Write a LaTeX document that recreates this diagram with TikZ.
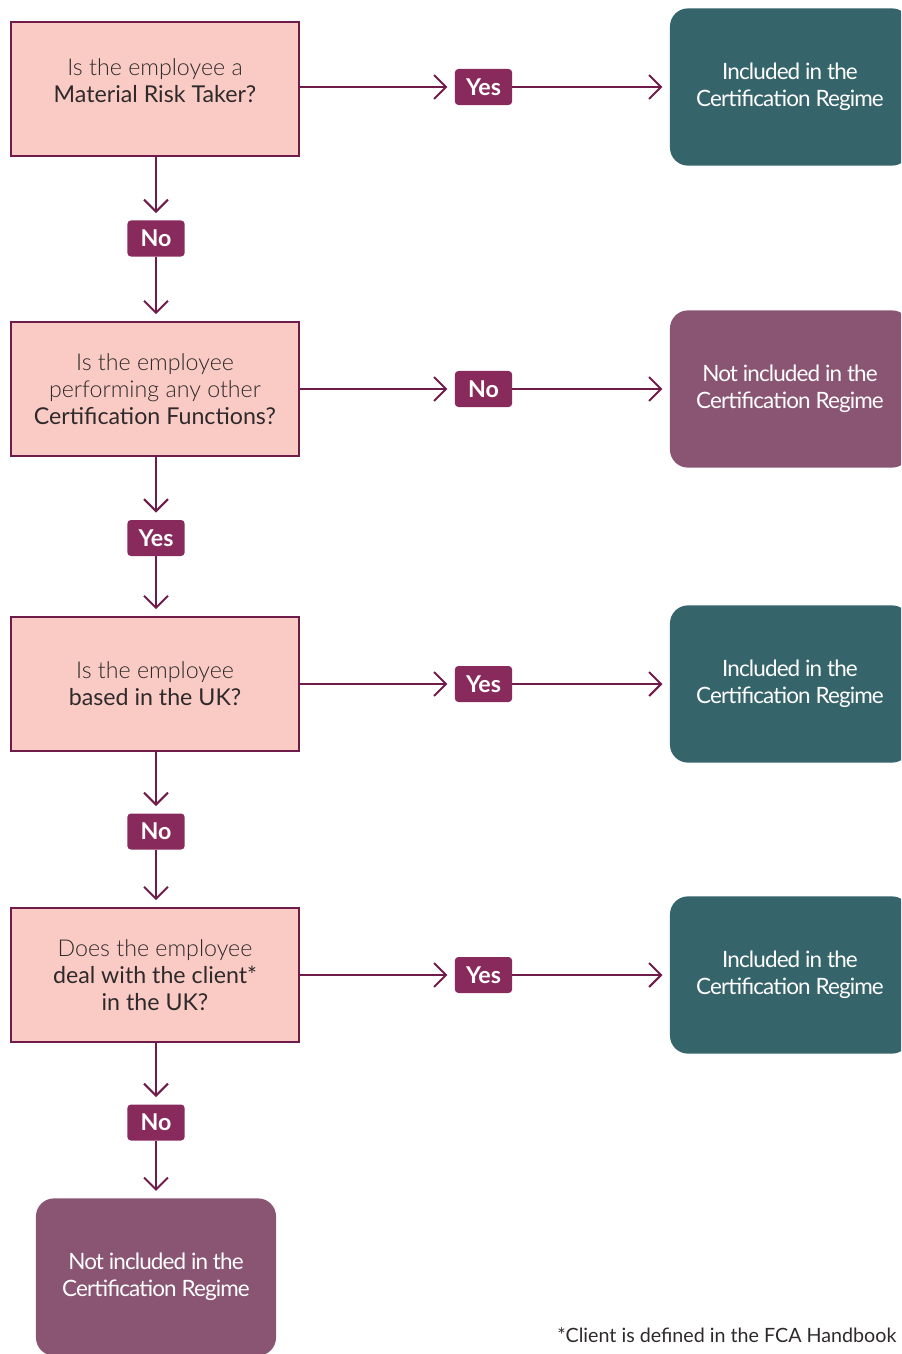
\documentclass[tikz,border=0pt]{standalone}
\usepackage{fontspec}
\setmainfont{Lato}
\newfontfamily\lightfont{Lato Light}
\newfontfamily\tightfont[LetterSpace=-4]{Lato}
\usepackage{xcolor}
\usetikzlibrary{arrows.meta}

\definecolor{pinkfill}{HTML}{FACBC4}
\definecolor{plumline}{HTML}{701C4A}
\definecolor{badgefill}{HTML}{882A5B}
\definecolor{tealbox}{HTML}{35646A}
\definecolor{plumbox}{HTML}{8A5473}
\definecolor{darktext}{HTML}{2E2A2B}

\begin{document}
\begin{tikzpicture}[
    x=0.025cm, y=-0.025cm,
    qbox/.style={rectangle, draw=plumline, fill=pinkfill, line width=0.9pt, minimum width=7.2cm, minimum height=3.35cm, align=center, text=darktext, font=\fontsize{16.5}{19}\selectfont},
    incbox/.style={rectangle, fill=tealbox, rounded corners=0.45cm, minimum width=6cm, minimum height=3.93cm, align=center, text=white, font=\tightfont\fontsize{16}{19.3}\selectfont},
    notbox/.style={incbox, fill=plumbox},
    badge/.style={rectangle, fill=badgefill, rounded corners=2.5pt, minimum width=1.43cm, minimum height=0.9cm, inner sep=0pt, text=white, font=\bfseries\fontsize{16.5}{18}\selectfont},
    arr/.style={-{Straight Barb[length=0.3cm, width=0.6cm]}, draw=plumline, line width=1.4pt, shorten >=0.18cm},
]
\useasboundingbox (0,0) rectangle (901,1354);
\clip (0,0) rectangle (901,1354);

% Questions
\node[qbox] (q1) at (155, 89) {{\lightfont Is the employee a}\\ Material Risk Taker?\\[-7.5pt]};
\node[qbox] (q2) at (155, 389) {{\lightfont Is the employee}\\ {\lightfont performing any other}\\ Certification Functions?};
\node[qbox] (q3) at (155, 684) {{\lightfont Is the employee}\\ based in the UK?};
\node[qbox] (q4) at (155, 975) {{\lightfont Does the employee}\\ deal with the client*\\ in the UK?};

% Outcomes
\node[incbox] (res1) at (790, 87) {Included in the\\ Certification Regime};
\node[notbox] (res2) at (790, 389) {Not included in the\\ Certification Regime};
\node[incbox] (res3) at (790, 684) {Included in the\\ Certification Regime};
\node[incbox] (res4) at (790, 975) {Included in the\\ Certification Regime};
\node[notbox] (resEnd) at (156, 1277) {Not included in the\\ Certification Regime};

% Answer badges
\node[badge] (y1) at (483.5, 87) {Yes};
\node[badge] (n2) at (483.5, 389) {No};
\node[badge] (y3) at (483.5, 684) {Yes};
\node[badge] (y4) at (483.5, 975) {Yes};
\node[badge] (n1) at (156, 238.5) {No};
\node[badge] (y2) at (156, 538) {Yes};
\node[badge] (n3) at (156, 831.5) {No};
\node[badge] (n4) at (156, 1122.5) {No};

% Arrows
\draw[arr] (q1.east |- y1) -- (y1);
\draw[arr] (y1) -- (res1);
\draw[arr] (q2) -- (n2);
\draw[arr] (n2) -- (res2);
\draw[arr] (q3) -- (y3);
\draw[arr] (y3) -- (res3);
\draw[arr] (q4) -- (y4);
\draw[arr] (y4) -- (res4);

\draw[arr] (q1.south -| n1) -- (n1);
\draw[arr] (n1) -- (q2.north -| n1);
\draw[arr] (q2.south -| y2) -- (y2);
\draw[arr] (y2) -- (q3.north -| y2);
\draw[arr] (q3.south -| n3) -- (n3);
\draw[arr] (n3) -- (q4.north -| n3);
\draw[arr] (q4.south -| n4) -- (n4);
\draw[arr] (n4) -- (resEnd);

% Footnote
\node[anchor=base west, text=darktext, font=\fontsize{14}{17}\selectfont, inner sep=0pt] (note) at (557, 1342) {*Client is defined in the FCA Handbook};

\end{tikzpicture}
\end{document}
